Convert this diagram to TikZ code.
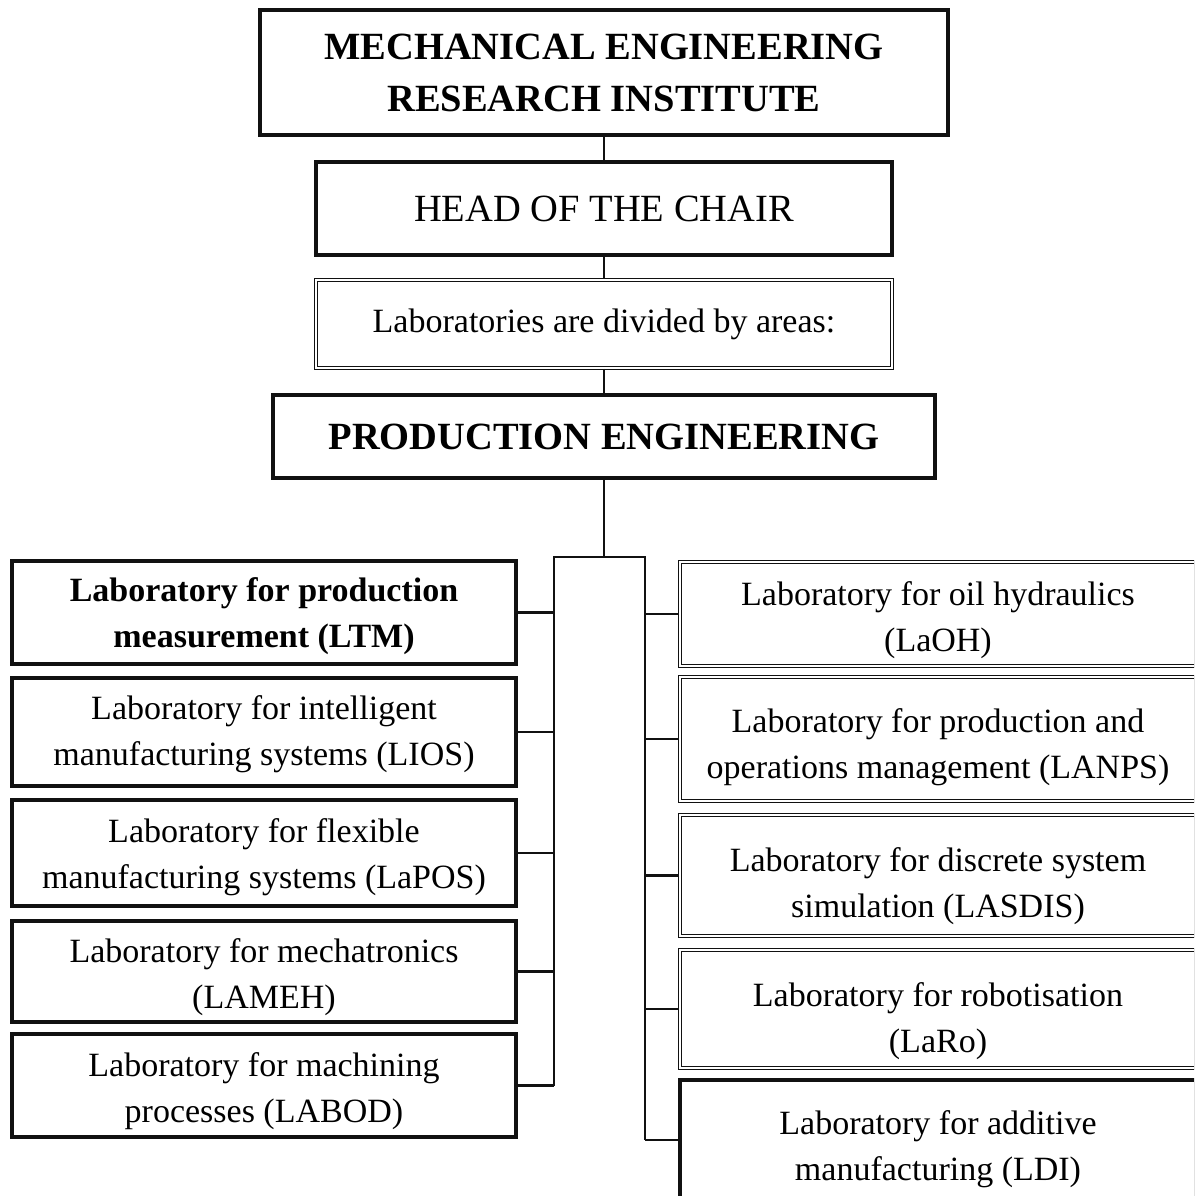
\documentclass[tikz,border=0pt]{standalone}
\usepackage{fontspec}
\setmainfont{Liberation Serif}

\definecolor{ChartLine}{HTML}{111111}
\tikzstyle{chart-box}=[draw={ChartLine}, line width=3.2pt, align=center, inner sep=0pt,
      font=\fontsize{34}{46}\selectfont]
\tikzstyle{chart-box-double}=[chart-box, line width=1.6pt, double, double distance=1.4pt]
\tikzstyle{chart-title}=[chart-box, font=\fontsize{38.5}{52}\selectfont\bfseries]
\tikzstyle{chart-link}=[draw={ChartLine}, line width=2.2pt, line join=miter]
% taller first line pushes the text lower in its box
\newcommand{\textdrop}[1]{\rule{0pt}{#1}}

\begin{document}
\begin{tikzpicture}[x=1pt, y=-1pt]
      \clip (0,0) rectangle (1194,1196);
      \fill[white] (0,0) rectangle (1194,1196);

      % top of the chart
      \node (box-meri) at (604, 72.5)
            [chart-title, minimum width=688pt, minimum height=125pt] {MECHANICAL ENGINEERING\\RESEARCH INSTITUTE};
      \node (box-head) at (604, 208.5)
            [chart-box, minimum width=576pt, minimum height=93pt, font=\fontsize{38.5}{52}\selectfont] {HEAD OF THE CHAIR};
      \node (box-areas) at (604, 324)
            [chart-box-double, minimum width=576pt, minimum height=88pt] {Laboratories are divided by areas:};
      \node (box-pe) at (604, 436.5)
            [chart-title, minimum width=662pt, minimum height=83pt] {PRODUCTION ENGINEERING};

      % laboratories, left column
      \node (lab-ltm) at (264, 612.5)
            [chart-box, minimum width=504pt, minimum height=103pt, font=\fontsize{34}{46}\selectfont\bfseries] {\textdrop{31pt}Laboratory for production\\measurement (LTM)};
      \node (lab-lios) at (264, 732)
            [chart-box, minimum width=504pt, minimum height=108pt] {\textdrop{29pt}Laboratory for intelligent\\manufacturing systems (LIOS)};
      \node (lab-lapos) at (264, 853)
            [chart-box, minimum width=504pt, minimum height=106pt] {\textdrop{33pt}Laboratory for flexible\\manufacturing systems (LaPOS)};
      \node (lab-lameh) at (264, 971.5)
            [chart-box, minimum width=504pt, minimum height=101pt] {\textdrop{36pt}Laboratory for mechatronics\\(LAMEH)};
      \node (lab-labod) at (264, 1085.5)
            [chart-box, minimum width=504pt, minimum height=103pt] {\textdrop{36pt}Laboratory for machining\\processes (LABOD)};

      % laboratories, right column
      \node (lab-laoh) at (938, 614)
            [chart-box-double, minimum width=516pt, minimum height=104pt] {\textdrop{37pt}Laboratory for oil hydraulics\\(LaOH)};
      \node (lab-lanps) at (938, 739)
            [chart-box-double, minimum width=516pt, minimum height=124pt] {\textdrop{41pt}Laboratory for production and\\operations management (LANPS)};
      \node (lab-lasdis) at (938, 875.5)
            [chart-box-double, minimum width=516pt, minimum height=121pt] {\textdrop{45pt}Laboratory for discrete system\\simulation (LASDIS)};
      \node (lab-laro) at (938, 1009)
            [chart-box-double, minimum width=516pt, minimum height=118pt] {\textdrop{48pt}Laboratory for robotisation\\(LaRo)};
      \node (lab-ldi) at (938, 1140)
            [chart-box, minimum width=516pt, minimum height=120pt] {\textdrop{43pt}Laboratory for additive\\manufacturing (LDI)};

      \coordinate (bus-left) at (554, 557);
      \coordinate (bus-right) at (645, 557);

      \draw[chart-link] (box-meri) -- (box-head);
      \draw[chart-link] (box-head) -- (box-areas);
      \draw[chart-link] (box-areas) -- (box-pe);
      \draw[chart-link] (box-pe.south) -- (box-pe.south |- bus-left);
      \draw[chart-link] (bus-left |- lab-labod.east) -- (bus-left) -- (bus-right) -- (bus-right |- lab-ldi.west);

      \foreach \lab in {ltm, lios, lapos, lameh, labod}
            \draw[chart-link] (lab-\lab.east) -- (lab-\lab.east -| bus-left);
      \foreach \lab in {laoh, lanps, lasdis, laro, ldi}
            \draw[chart-link] (lab-\lab.west) -- (lab-\lab.west -| bus-right);
\end{tikzpicture}
\end{document}
